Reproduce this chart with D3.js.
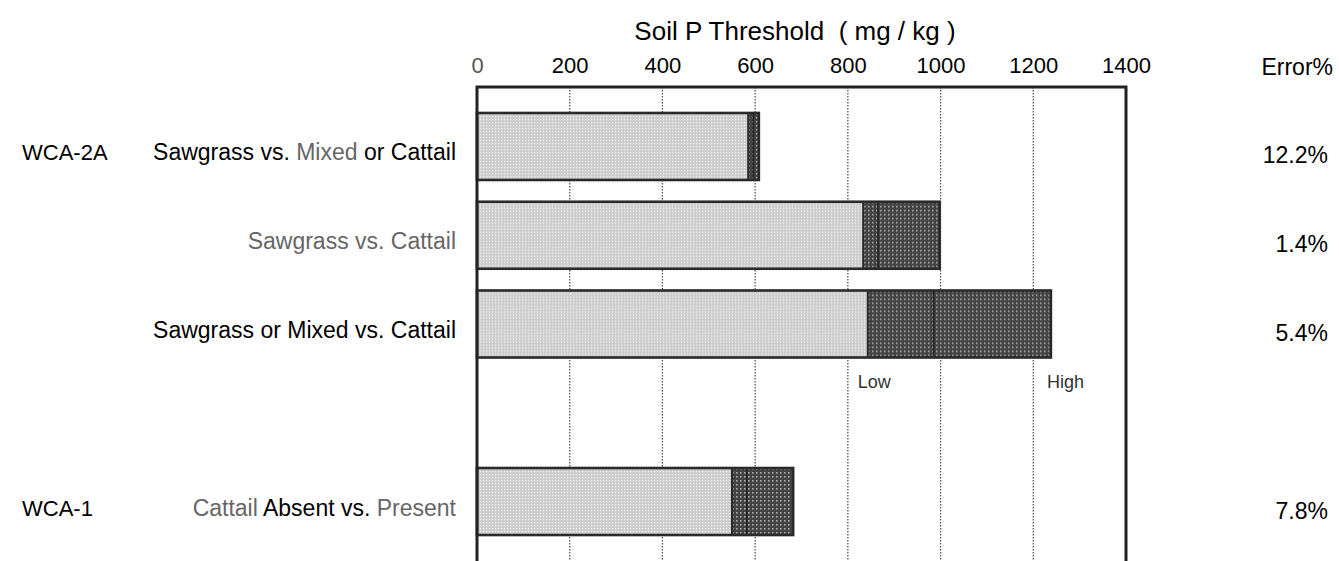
<!DOCTYPE html>
<html>
<head>
<meta charset="utf-8">
<script src="https://cdn.jsdelivr.net/npm/d3@7"></script>
<style>
  body { margin: 0; background: #fff; }
  svg { display: block; font-family: 'Liberation Sans', Arial, sans-serif; }
  text { white-space: pre; }
</style>
</head>
<body>
<div id="chart"></div>
<script>
// 行（含一个空行，用来放 Low / High 标注）
const rowKeys = ['r1', 'r2', 'r3', 'gap', 'r4'];
const barKeys = ['r1', 'r2', 'r3', 'r4'];
const regionRows = ['r1', 'r4'];
const regionLabels = ['WCA-2A', 'WCA-1'];
// 每段文字: [文字, 是否灰色]
const rowLabels = [
    [['Sawgrass vs. ', false], ['Mixed', true], [' or Cattail', false]],
    [['Sawgrass vs. Cattail', true]],
    [['Sawgrass or Mixed vs. Cattail', false]],
    [['Cattail ', true], ['Absent vs. ', false], ['Present', true]],
];
const lowValues = [585, 833, 843, 550]; // 浅色段终点 / 深色段起点
const midValues = [596, 865, 985, 582]; // 深色段中的分隔线
const highValues = [608, 998, 1238, 682]; // 深色段终点
const errorLabels = ['12.2%', '1.4%', '5.4%', '7.8%'];
const xTicks = [0, 200, 400, 600, 800, 1000, 1200, 1400];
const gridTicks = [200, 400, 600, 800, 1000, 1200];

const width = 1339;
const height = 561;
const plotTop = 87;

const svg = d3
    .select('#chart')
    .append('svg')
    .attr('width', width)
    .attr('height', height);

// 比例尺
const xScale = d3.scaleLinear().domain([0, 1400]).range([477, 1126]);
const yScale = d3
    .scaleBand()
    .domain(rowKeys)
    .range([102.1, 545.9])
    .paddingInner(0.245)
    .paddingOuter(0.1225);
const bw = yScale.bandwidth();

// 网点填充
const defs = svg.append('defs');
const light = defs
    .append('pattern')
    .attr('id', 'lightDots')
    .attr('patternUnits', 'userSpaceOnUse')
    .attr('width', 3)
    .attr('height', 3);
light.append('rect').attr('width', 3).attr('height', 3).attr('fill', '#cdcdcd');
light.append('rect').attr('width', 1.2).attr('height', 1.2).attr('fill', '#f2f2f2');

const dark = defs
    .append('pattern')
    .attr('id', 'darkDots')
    .attr('patternUnits', 'userSpaceOnUse')
    .attr('width', 4)
    .attr('height', 4);
dark.append('rect').attr('width', 4).attr('height', 4).attr('fill', '#444');
dark.append('rect').attr('width', 1.6).attr('height', 1.6).attr('fill', '#aaa');

// 标题
svg.append('text')
    .attr('x', 795)
    .attr('y', 40)
    .attr('text-anchor', 'middle')
    .attr('font-size', '26px')
    .attr('fill', '#000')
    .text('Soil P Threshold  ( mg / kg )');

// 顶部刻度
const xAxis = d3
    .axisTop(xScale)
    .tickValues(xTicks)
    .tickFormat(d3.format('d'))
    .tickSize(0)
    .tickPadding(14);
const axisG = svg.append('g').attr('transform', `translate(0,${plotTop})`).call(xAxis);
axisG.select('.domain').remove();
axisG
    .selectAll('text')
    .attr('font-size', '22px')
    .attr('font-family', "'Liberation Sans', Arial, sans-serif")
    .attr('fill', (d) => (d === 0 ? '#555' : '#000'));

// 虚线网格
svg.append('g')
    .selectAll('line')
    .data(gridTicks)
    .join('line')
    .attr('x1', (d) => xScale(d))
    .attr('x2', (d) => xScale(d))
    .attr('y1', plotTop)
    .attr('y2', height)
    .attr('stroke', '#555')
    .attr('stroke-width', 1.3)
    .attr('stroke-dasharray', '1.5,1.5');

// 条形
const bars = svg
    .append('g')
    .selectAll('g')
    .data(barKeys)
    .join('g')
    .attr('transform', (d) => `translate(0,${yScale(d)})`);

bars.append('rect')
    .attr('x', xScale(0))
    .attr('width', (d, i) => xScale(lowValues[i]) - xScale(0))
    .attr('height', bw)
    .attr('fill', 'url(#lightDots)');

bars.append('rect')
    .attr('x', (d, i) => xScale(lowValues[i]))
    .attr('width', (d, i) => xScale(highValues[i]) - xScale(lowValues[i]))
    .attr('height', bw)
    .attr('fill', 'url(#darkDots)');

bars.append('line')
    .attr('x1', (d, i) => xScale(lowValues[i]))
    .attr('x2', (d, i) => xScale(lowValues[i]))
    .attr('y1', 0)
    .attr('y2', bw)
    .attr('stroke', '#2a2a2a')
    .attr('stroke-width', 2);

bars.append('line')
    .attr('x1', (d, i) => xScale(midValues[i]))
    .attr('x2', (d, i) => xScale(midValues[i]))
    .attr('y1', 0)
    .attr('y2', bw)
    .attr('stroke', '#222')
    .attr('stroke-width', 1.6);

bars.append('rect')
    .attr('x', xScale(0))
    .attr('width', (d, i) => xScale(highValues[i]) - xScale(0))
    .attr('height', bw)
    .attr('fill', 'none')
    .attr('stroke', '#2a2a2a')
    .attr('stroke-width', 2.6);

// 图框（无底边）
svg.append('path')
    .attr('d', `M${xScale(0)},${height}V${plotTop}H${xScale(1400)}V${height}`)
    .attr('fill', 'none')
    .attr('stroke', '#222')
    .attr('stroke-width', 3);

// 区域标签
svg.append('g')
    .selectAll('text')
    .data(regionRows)
    .join('text')
    .attr('x', 22)
    .attr('y', (d) => yScale(d) + bw / 2 + 14)
    .attr('font-size', '22px')
    .attr('fill', '#000')
    .text((d, i) => regionLabels[i]);

// 行标签
const rowText = svg
    .append('g')
    .selectAll('text')
    .data(barKeys)
    .join('text')
    .attr('x', 456)
    .attr('y', (d) => yScale(d) + bw / 2 + 14)
    .attr('text-anchor', 'end')
    .attr('font-size', '23px');

rowText
    .selectAll('tspan')
    .data((d, i) => rowLabels[i])
    .join('tspan')
    .attr('fill', (p) => (p[1] ? '#666' : '#000'))
    .text((p) => p[0]);

// Error%
svg.append('text')
    .attr('x', 1333)
    .attr('y', 75)
    .attr('text-anchor', 'end')
    .attr('font-size', '23px')
    .attr('fill', '#000')
    .text('Error%');

svg.append('g')
    .selectAll('text')
    .data(barKeys)
    .join('text')
    .attr('x', 1328)
    .attr('y', (d) => yScale(d) + bw / 2 + 17)
    .attr('text-anchor', 'end')
    .attr('font-size', '23px')
    .attr('fill', '#000')
    .text((d, i) => errorLabels[i]);

// Low / High 标注（第三条下面）
const labelY = yScale('r3') + bw + 30;
svg.append('text')
    .attr('x', xScale(lowValues[2]) - 10)
    .attr('y', labelY)
    .attr('font-size', '18px')
    .attr('fill', '#333')
    .text('Low');
svg.append('text')
    .attr('x', xScale(highValues[2]) - 4)
    .attr('y', labelY)
    .attr('font-size', '18px')
    .attr('fill', '#333')
    .text('High');
</script>
</body>
</html>
